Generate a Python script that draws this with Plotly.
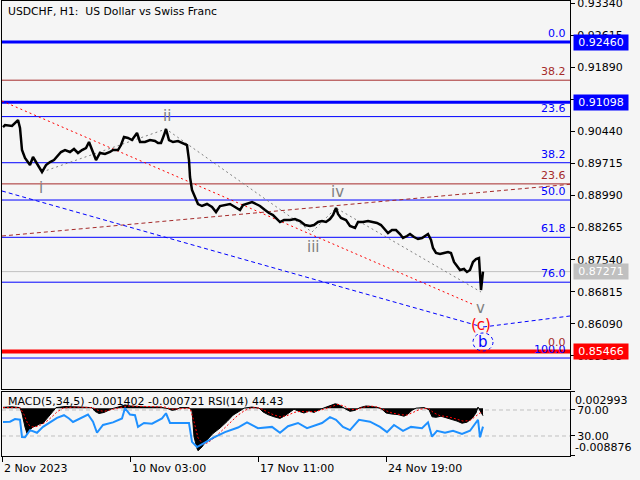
import plotly.graph_objects as go

FONT = "DejaVu Sans"
BG = "#F5F5F5"
BLUE = "#0000FF"
BROWN = "#A52A2A"
RED = "#FF0000"
GRAY = "#808080"
SILVER = "#C0C0C0"
RSI_BLUE = "#1E90FF"

title_text = "USDCHF, H1:\u00a0 US Dollar vs Swiss Franc"
indicator_text = "MACD(5,34,5) -0.001402 -0.000721 RSI(14) 44.43"

# ---------------- price (H1 bars, index = bar position) ----------------
bar_x = [3, 5, 12, 18, 20, 22, 25, 28, 30, 33, 36, 40, 42, 46, 50, 54, 57, 61, 65, 70,
         74, 78, 82, 86, 89, 93, 96, 100, 105, 110, 113, 118, 121, 124, 128, 132, 137, 140, 145, 150,
         155, 158, 161, 164, 166, 169, 173, 178, 183, 187, 189, 190, 192, 195, 198, 202, 207, 212, 216, 220,
         225, 230, 235, 240, 243, 247, 252, 256, 260, 265, 269, 273, 277, 280, 284, 290, 295, 300, 305, 310,
         314, 318, 322, 326, 330, 333, 336, 338, 341, 346, 350, 355, 358, 363, 368, 373, 377, 381, 385, 388,
         392, 396, 400, 403, 407, 410, 414, 418, 422, 426, 428, 431, 433, 436, 440, 444, 448, 451, 454, 457,
         460, 464, 467, 470, 473, 476, 479, 481, 483]
close = [0.90539, 0.90584, 0.90562, 0.90697, 0.90517, 0.90019, 0.89839, 0.89726, 0.89680, 0.89861,
         0.89748, 0.89567, 0.89522, 0.89680, 0.89748, 0.89793, 0.89861, 0.89974, 0.90019, 0.89974,
         0.90042, 0.89952, 0.90019, 0.90065, 0.90200, 0.89974, 0.89793, 0.89952, 0.89929, 0.89974,
         0.90019, 0.90019, 0.90132, 0.90313, 0.90291, 0.90245, 0.90404, 0.90200, 0.90200, 0.90245,
         0.90223, 0.90178, 0.90178, 0.90358, 0.90494, 0.90245, 0.90200, 0.90223, 0.90178, 0.90132,
         0.89793, 0.89409, 0.89115, 0.88957, 0.88799, 0.88754, 0.88799, 0.88731, 0.88618, 0.88754,
         0.88776, 0.88799, 0.88731, 0.88663, 0.88776, 0.88799, 0.88844, 0.88799, 0.88754, 0.88663,
         0.88596, 0.88550, 0.88460, 0.88392, 0.88437, 0.88437, 0.88460, 0.88415, 0.88324, 0.88302,
         0.88324, 0.88392, 0.88415, 0.88392, 0.88460, 0.88550, 0.88709, 0.88573, 0.88483, 0.88437,
         0.88302, 0.88257, 0.88392, 0.88392, 0.88415, 0.88392, 0.88370, 0.88324, 0.88211, 0.88144,
         0.88211, 0.88211, 0.88121, 0.88031, 0.88076, 0.88121, 0.88053, 0.88008, 0.88031, 0.88098,
         0.88121, 0.87985, 0.87805, 0.87692, 0.87669, 0.87692, 0.87714, 0.87692, 0.87488, 0.87398,
         0.87307, 0.87330, 0.87262, 0.87307, 0.87488, 0.87556, 0.87579, 0.86855, 0.87271]

date_tick_bars = [2, 130, 258, 386]
date_tick_labels = ["2 Nov 2023", "10 Nov 03:00", "17 Nov 11:00", "24 Nov 19:00"]

price_ticks = [0.93340, 0.92615, 0.91890, 0.91165, 0.90440, 0.89715, 0.88990,
               0.88265, 0.87540, 0.86815, 0.86090, 0.85365]
price_range = [0.84618, 0.93387]

# Fibonacci retracements
fib_blue_start, fib_blue_end = 0.92460, 0.85318
fib_blue_levels = [0.0, 23.6, 38.2, 50.0, 61.8, 76.0, 100.0]
fib_brown_start, fib_brown_end = 0.85466, 1.01516
fib_brown_levels = [0.0, 23.6, 38.2]

thick_blue_prices = [0.92460, 0.91098]
red_price = 0.85466
current_price = 0.87271

# trend / channel lines
red_trend_x = [2, 472]
red_trend_y = [0.91127, 0.86539]
blue_chan_x = [2, 479, None, 483, 570]
blue_chan_y = [0.89093, 0.86042, None, 0.86019, 0.86268]
brown_chan_x = [2, 570]
brown_chan_y = [0.88076, 0.89244]

# Elliott wave zigzag
wave_x = [42, 166, 312, 336, 481]
wave_y = [0.89522, 0.90494, 0.88166, 0.88709, 0.86810]
wave_labels = ["i", "ii", "iii", "iv", "v"]
wave_label_x = [41, 167, 313, 337, 480]
wave_label_y = [0.89161, 0.90788, 0.87827, 0.89070, 0.86445]
c_label = ("(c)", 481, 0.86065)
b_label = ("b", 483, 0.85680)

# ---------------- indicators ----------------
macd_x = [3, 12, 20, 22, 25, 27, 30, 33, 37, 40, 43, 47, 50, 53, 56, 65, 80, 92, 95, 99,
          104, 108, 112, 120, 125, 130, 145, 160, 168, 172, 176, 180, 189, 192, 194, 197, 198, 202, 207, 213,
          220, 227, 233, 240, 244, 252, 259, 263, 268, 274, 280, 285, 290, 294, 299, 304, 309, 314, 319, 324,
          330, 335, 338, 342, 346, 350, 355, 360, 366, 372, 378, 382, 386, 392, 398, 404, 408, 412, 416, 424,
          429, 432, 436, 441, 447, 452, 457, 462, 467, 472, 476, 478, 480, 483]
macd_hist = [0.00015, 0.00025, 0.0001, -0.0010, -0.0035, -0.0047, -0.0040, -0.0035, -0.0032, -0.0029,
             -0.0028, -0.0020, -0.0014, -0.0006, 0.0001, 0.0003, 0.0002, 0.0001, -0.0006, -0.0010,
             -0.0008, -0.0005, -0.0001, 0.0003, 0.0006, 0.0004, 0.0002, 0.0002, -0.0001, -0.0004,
             -0.0003, 0.0001, 0.0001, -0.0005, -0.0053, -0.0075, -0.0079, -0.0072, -0.0059, -0.0047,
             -0.0037, -0.0025, -0.0013, -0.0005, 0.0000, 0.0002, 0.0000, -0.0007, -0.0012, -0.0016,
             -0.0019, -0.0014, -0.0008, -0.0002, -0.0006, -0.0009, -0.0005, -0.0008, -0.0003, 0.0000,
             0.0004, 0.0008, 0.0007, 0.0002, -0.0002, -0.0006, -0.0004, 0.0001, 0.0004, 0.0003,
             0.0001, -0.0002, -0.0009, -0.0011, -0.0012, -0.0015, -0.0011, -0.0004, 0.0000, 0.0001,
             -0.0003, -0.0016, -0.0017, -0.0015, -0.0018, -0.0021, -0.0024, -0.0028, -0.0026, -0.0019,
             -0.0009, 0.0002, -0.0004, -0.001402]

signal_x = [3, 20, 24, 28, 32, 37, 42, 47, 52, 57, 63, 75, 93, 98, 104, 110, 118, 128, 145, 165,
            172, 180, 190, 194, 198, 203, 208, 215, 222, 230, 238, 245, 252, 260, 266, 273, 280, 287, 294, 300,
            308, 316, 324, 332, 338, 344, 350, 356, 362, 370, 378, 385, 392, 400, 407, 413, 420, 428, 434, 440,
            448, 456, 463, 470, 476, 480, 483]
signal = [0.0001, 0.0001, -0.0012, -0.0030, -0.0035, -0.0034, -0.0030, -0.0024, -0.0016, -0.0007,
          0.0000, 0.0002, 0.0001, -0.0004, -0.0006, -0.0004, 0.0000, 0.0004, 0.0003, 0.0002,
          -0.0002, -0.0001, 0.0000, -0.0025, -0.0055, -0.0067, -0.0064, -0.0054, -0.0042, -0.0027,
          -0.0013, -0.0004, 0.0001, 0.0000, -0.0006, -0.0012, -0.0016, -0.0014, -0.0008, -0.0006,
          -0.0007, -0.0006, -0.0002, 0.0003, 0.0007, 0.0004, -0.0002, -0.0003, 0.0001, 0.0004,
          0.0002, -0.0004, -0.0009, -0.0012, -0.0013, -0.0008, -0.0002, 0.0000, -0.0009, -0.0014,
          -0.0016, -0.0020, -0.0024, -0.0023, -0.0015, -0.0009, -0.000721]

rsi_x = [3, 10, 15, 20, 22, 25, 30, 34, 37, 43, 50, 57, 64, 69, 73, 81, 88, 93, 97, 103,
         113, 122, 125, 130, 135, 138, 144, 152, 162, 166, 170, 180, 189, 192, 197, 204, 213, 225, 238, 247,
         258, 272, 280, 288, 298, 307, 317, 322, 330, 336, 343, 350, 359, 370, 380, 387, 394, 403, 411, 422,
         428, 432, 437, 445, 453, 462, 470, 476, 478, 480, 483]
rsi = [51.5, 52, 56, 55, 28.5, 28, 39, 37, 35, 44, 51.5, 58, 62, 57, 51.5, 58, 63, 52, 35, 47,
       51, 57, 73, 63, 62, 44, 50, 49, 57, 65, 50, 50, 50, 21, 13, 19, 27, 36, 43, 51,
       42, 44, 35, 45, 50, 42, 47, 50, 59, 55, 44, 39, 55, 52, 44, 36, 47, 38, 44, 42,
       51, 29, 38, 35, 38, 33, 38, 51, 55, 28, 44.43]
rsi_levels = [70, 30]
macd_range = [-0.008876, 0.002993]
rsi_range = [-0.77, 97.69]

# ---------------- figure ----------------
fig = go.Figure()

fig.add_trace(go.Scatter(x=brown_chan_x, y=brown_chan_y, mode="lines",
                         line=dict(color=BROWN, width=1, dash="4px,3px"), xaxis="x", yaxis="y"))
fig.add_trace(go.Scatter(x=blue_chan_x, y=blue_chan_y, mode="lines", connectgaps=False,
                         line=dict(color=BLUE, width=1, dash="4px,3px"), xaxis="x", yaxis="y"))
fig.add_trace(go.Scatter(x=red_trend_x, y=red_trend_y, mode="lines",
                         line=dict(color=RED, width=1, dash="2px,3px"), xaxis="x", yaxis="y"))
fig.add_trace(go.Scatter(x=wave_x, y=wave_y, mode="lines",
                         line=dict(color=GRAY, width=1, dash="2px,3px"), xaxis="x", yaxis="y"))
fig.add_trace(go.Scatter(x=bar_x, y=close, mode="lines",
                         line=dict(color="black", width=2.5), xaxis="x", yaxis="y"))

fig.add_trace(go.Scatter(x=macd_x, y=macd_hist, mode="lines", fill="tozeroy",
                         fillcolor="black", line=dict(color="black", width=1),
                         xaxis="x2", yaxis="y2"))
fig.add_trace(go.Scatter(x=signal_x, y=signal, mode="lines",
                         line=dict(color=RED, width=1, dash="2px,2px"), xaxis="x2", yaxis="y2"))
fig.add_trace(go.Scatter(x=rsi_x, y=rsi, mode="lines",
                         line=dict(color=RSI_BLUE, width=2), xaxis="x2", yaxis="y3"))

shapes = []
annotations = []


def hline(price, color, width, yref="y", dash="solid"):
    shapes.append(dict(type="line", xref="paper", x0=0, x1=1, yref=yref, y0=price, y1=price,
                       line=dict(color=color, width=width, dash=dash), layer="below"))


for lvl in fib_blue_levels:
    p = fib_blue_start + (fib_blue_end - fib_blue_start) * lvl / 100.0
    hline(p, BLUE, 1)
    annotations.append(dict(xref="paper", x=1, xanchor="right", xshift=-2, yref="y", y=p,
                            yanchor="bottom", text=f"{lvl:.1f}", showarrow=False,
                            font=dict(family=FONT, size=11, color=BLUE)))
for lvl in fib_brown_levels:
    p = fib_brown_start + (fib_brown_end - fib_brown_start) * lvl / 100.0
    hline(p, BROWN, 1)
    annotations.append(dict(xref="paper", x=1, xanchor="right", xshift=-2, yref="y", y=p,
                            yanchor="bottom", text=f"{lvl:.1f}", showarrow=False,
                            font=dict(family=FONT, size=11, color=BROWN)))

hline(current_price, SILVER, 1)
for p in thick_blue_prices:
    hline(p, BLUE, 3)
hline(red_price, RED, 4)

for lvl in rsi_levels:
    hline(lvl, SILVER, 1, yref="y3", dash="4px,3px")

# price labels on the right axis
for p, c in [(thick_blue_prices[0], BLUE), (thick_blue_prices[1], BLUE),
             (current_price, SILVER), (red_price, RED)]:
    annotations.append(dict(xref="paper", x=1, xanchor="left", xshift=3, yref="y", y=p,
                            yanchor="middle", text=f"{p:.5f}", showarrow=False,
                            bgcolor=c, width=52, height=13, borderpad=1,
                            font=dict(family=FONT, size=11, color="white")))

# wave labels
for t, x, y in zip(wave_labels, wave_label_x, wave_label_y):
    annotations.append(dict(xref="x", yref="y", x=x, y=y, text=t, showarrow=False,
                            font=dict(family=FONT, size=15, color=GRAY)))
annotations.append(dict(xref="x", yref="y", x=c_label[1], y=c_label[2], text=c_label[0],
                        showarrow=False, font=dict(family=FONT, size=15, color=RED)))
annotations.append(dict(xref="x", yref="y", x=b_label[1], y=b_label[2], text=b_label[0],
                        showarrow=False, font=dict(family=FONT, size=15, color=BLUE)))
shapes.append(dict(type="circle", xref="x", yref="y", xsizemode="pixel", ysizemode="pixel",
                   xanchor=b_label[1], yanchor=b_label[2], x0=-10, x1=10, y0=-9, y1=9,
                   line=dict(color=BLUE, width=1, dash="dot"), layer="above"))

# texts
annotations.append(dict(xref="paper", yref="paper", x=0, y=1, xanchor="left", yanchor="top",
                        xshift=4, yshift=-2, text=title_text, showarrow=False,
                        font=dict(family=FONT, size=10.8, color="black")))
annotations.append(dict(xref="paper", yref="y2 domain", x=0, y=1, xanchor="left", yanchor="top",
                        xshift=4, yshift=-1, text=indicator_text, showarrow=False,
                        font=dict(family=FONT, size=11, color="black")))
annotations.append(dict(xref="paper", x=1, xanchor="left", xshift=3, yref="y2", y=macd_range[1],
                        yanchor="top", text=f"{macd_range[1]:.6f}", showarrow=False,
                        font=dict(family=FONT, size=11, color="black")))
annotations.append(dict(xref="paper", x=1, xanchor="left", xshift=3, yref="y2", y=macd_range[0],
                        yanchor="bottom", text=f"{macd_range[0]:.6f}", showarrow=False,
                        font=dict(family=FONT, size=11, color="black")))
for b, t in zip(date_tick_bars, date_tick_labels):
    annotations.append(dict(xref="x2", yref="paper", x=b, y=0, xanchor="left", yanchor="top",
                            xshift=0, yshift=-4, text=t, showarrow=False,
                            font=dict(family=FONT, size=11, color="black")))

axis_common = dict(showgrid=False, zeroline=False, showline=True, mirror=True,
                   linecolor="black", linewidth=1, automargin=False,
                   tickfont=dict(family=FONT, size=11, color="black"), tickcolor="black")

fig.update_layout(
    template="none",
    width=640, height=480,
    margin=dict(l=2, r=70, t=1, b=24),
    paper_bgcolor=BG, plot_bgcolor=BG,
    showlegend=False,
    xaxis=dict(domain=[0, 1], anchor="y", range=[2, 570], showticklabels=False, ticks="",
               **axis_common),
    yaxis=dict(domain=[0.14725, 1], anchor="x", side="right", range=price_range,
               tickvals=price_ticks, tickformat=".5f", ticks="outside", ticklen=4,
               ticklabeloverflow="allow", **axis_common),
    xaxis2=dict(domain=[0, 1], anchor="y2", range=[2, 570], tickvals=date_tick_bars,
                showticklabels=False, ticks="outside", ticklen=5, **axis_common),
    yaxis2=dict(domain=[0, 0.14066], anchor="x2", side="right", range=macd_range,
                tickvals=macd_range, showticklabels=False, ticks="outside", ticklen=4,
                **axis_common),
    yaxis3=dict(overlaying="y2", anchor="x2", side="right", range=rsi_range,
                tickvals=rsi_levels, ticktext=[f"{v:.2f}" for v in rsi_levels],
                ticks="outside", ticklen=4, showgrid=False, zeroline=False, showline=False,
                automargin=False, tickfont=dict(family=FONT, size=11, color="black"),
                tickcolor="black"),
    shapes=shapes,
    annotations=annotations,
)

fig.write_html("out.html", config={"displayModeBar": False},
               post_script="document.body.style.margin='0';document.body.style.background='#F5F5F5';")
